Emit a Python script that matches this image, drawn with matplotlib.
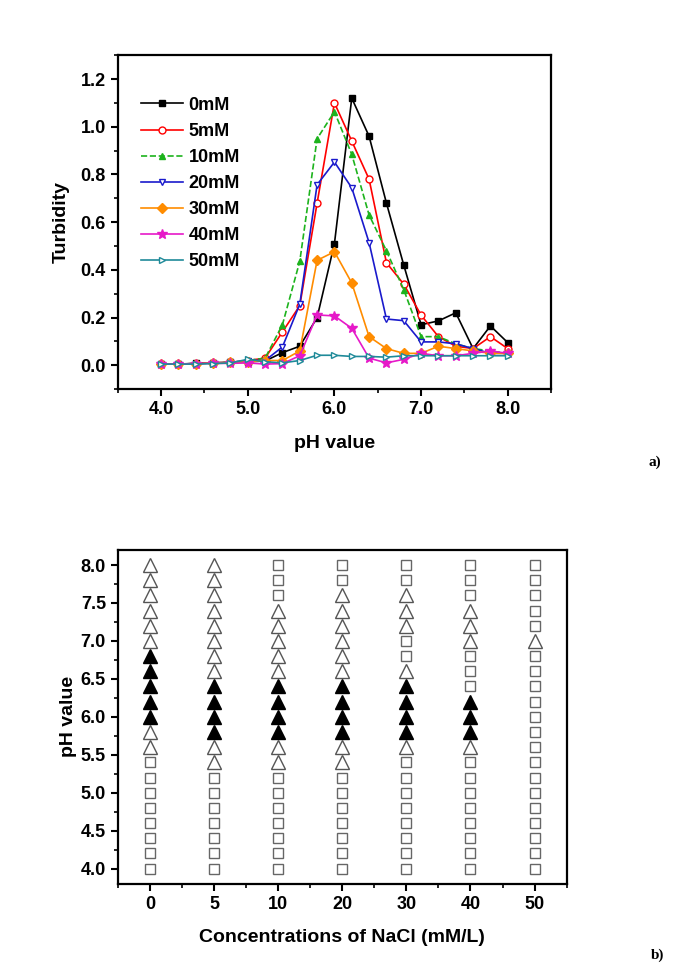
import numpy as np
import matplotlib
matplotlib.use('Agg')
import matplotlib.pyplot as plt
from matplotlib.ticker import MultipleLocator, FormatStrFormatter

plt.rcParams['font.family'] = ['Liberation Sans', 'DejaVu Sans']
plt.rcParams['font.weight'] = 'bold'

# --- panel a: turbidity vs pH ---
ph = [4.0, 4.2, 4.4, 4.6, 4.8, 5.0, 5.2, 5.4, 5.6, 5.8, 6.0,
      6.2, 6.4, 6.6, 6.8, 7.0, 7.2, 7.4, 7.6, 7.8, 8.0]
t0 = [0.005, 0.005, 0.008, 0.01, 0.012, 0.015, 0.018, 0.053, 0.08, 0.2, 0.51,
      1.12, 0.96, 0.68, 0.42, 0.17, 0.186, 0.22, 0.07, 0.165, 0.095]
t5 = [0.005, 0.005, 0.007, 0.01, 0.012, 0.02, 0.03, 0.14, 0.25, 0.68, 1.10,
      0.94, 0.78, 0.43, 0.34, 0.21, 0.12, 0.08, 0.07, 0.12, 0.07]
t10 = [0.005, 0.005, 0.007, 0.01, 0.012, 0.02, 0.03, 0.17, 0.436, 0.95, 1.063,
       0.884, 0.63, 0.48, 0.317, 0.12, 0.12, 0.09, 0.07, 0.06, 0.05]
t20 = [0.005, 0.005, 0.007, 0.01, 0.012, 0.02, 0.02, 0.077, 0.256, 0.757, 0.852,
       0.744, 0.514, 0.194, 0.187, 0.098, 0.098, 0.09, 0.07, 0.05, 0.05]
t30 = [0.005, 0.005, 0.007, 0.01, 0.012, 0.015, 0.02, 0.02, 0.06, 0.44, 0.476,
       0.345, 0.12, 0.07, 0.05, 0.05, 0.08, 0.07, 0.06, 0.05, 0.05]
t40 = [0.005, 0.005, 0.007, 0.008, 0.008, 0.01, 0.005, 0.007, 0.04, 0.211, 0.207,
       0.155, 0.03, 0.01, 0.025, 0.05, 0.04, 0.04, 0.05, 0.06, 0.05]
t50 = [0.005, 0.005, 0.005, 0.007, 0.01, 0.025, 0.015, 0.01, 0.02, 0.042, 0.042,
       0.037, 0.037, 0.034, 0.04, 0.04, 0.04, 0.04, 0.04, 0.04, 0.04]

series = [
    ('0mM', t0, 'black', 's', 'black', '-'),
    ('5mM', t5, 'red', 'o', 'white', '-'),
    ('10mM', t10, '#1db31d', '^', '#1db31d', '--'),
    ('20mM', t20, '#1a1acc', 'v', 'white', '-'),
    ('30mM', t30, '#ff8c00', 'D', '#ff8c00', '-'),
    ('40mM', t40, '#e619c8', '*', '#e619c8', '-'),
    ('50mM', t50, '#1f8a99', '>', 'white', '-'),
]

# --- panel b: phase states ---
conc_labels = ['0', '5', '10', '20', '30', '40', '50']
ph_b = [4.0, 4.2, 4.4, 4.6, 4.8, 5.0, 5.2, 5.4, 5.6, 5.8, 6.0,
        6.2, 6.4, 6.6, 6.8, 7.0, 7.2, 7.4, 7.6, 7.8, 8.0]
# s = square (open), t = open triangle, T = filled triangle; from pH 4.0 upward
state_0 = 'ssssssss' + 'tt' + 'TTTTT' + 'tttttt'
state_5 = 'sssssss' + 'tt' + 'TTTT' + 'tttttttt'
state_10 = 'sssssss' + 'tt' + 'TTTT' + 'ttttt' + 'sss'
state_20 = 'sssssss' + 'tt' + 'TTTT' + 'tttttt' + 'ss'
state_30 = 'ssssssss' + 't' + 'TTTT' + 't' + 'ss' + 'ttt' + 'ss'
state_40 = 'ssssssss' + 't' + 'TTT' + 'sss' + 'ttt' + 'sss'
state_50 = 'sssssssssssssss' + 't' + 'sssss'
states = [state_0, state_5, state_10, state_20, state_30, state_40, state_50]

fig = plt.figure(figsize=(6.77, 9.68), dpi=100)

ax1 = fig.add_axes([0.174, 0.598, 0.640, 0.345])
for lab, y, c, m, fc, ls in series:
    ms = 7.5 if m == '*' else 5
    if m == 'D':
        ms = 4.6
    ax1.plot(ph, y, color=c, ls=ls, lw=1.2, marker=m, ms=ms,
             mfc=fc, mec=c, mew=1.0, label=lab)
ax1.set_xlim(3.5, 8.5)
ax1.set_ylim(-0.1, 1.3)
ax1.xaxis.set_major_locator(MultipleLocator(1.0))
ax1.xaxis.set_minor_locator(MultipleLocator(0.5))
ax1.yaxis.set_major_locator(MultipleLocator(0.2))
ax1.yaxis.set_minor_locator(MultipleLocator(0.1))
ax1.xaxis.set_major_formatter(FormatStrFormatter('%.1f'))
ax1.yaxis.set_major_formatter(FormatStrFormatter('%.1f'))
ax1.set_xlabel('pH value', fontsize=14, fontweight='bold', labelpad=12)
ax1.set_ylabel('Turbidity', fontsize=14, fontweight='bold', labelpad=8)
leg = ax1.legend(loc='upper left', bbox_to_anchor=(0.038, 0.897), frameon=False,
                 fontsize=13, handlelength=2.3, handletextpad=0.3,
                 labelspacing=0.5, borderaxespad=0.0)
for t in leg.get_texts():
    t.set_fontweight('bold')

ax2 = fig.add_axes([0.174, 0.087, 0.663, 0.345])
for i, st in enumerate(states):
    for p, s in zip(ph_b, st):
        if s == 's':
            ax2.plot(i, p, marker='s', ms=7.8, mfc='white', mec='#666666', mew=1.0, ls='none')
        elif s == 't':
            ax2.plot(i, p, marker='^', ms=10.5, mfc='white', mec='#555555', mew=1.0, ls='none')
        else:
            ax2.plot(i, p, marker='^', ms=10.5, mfc='black', mec='black', mew=1.0, ls='none')
ax2.set_xlim(-0.5, 6.5)
ax2.set_ylim(3.8, 8.2)
ax2.set_xticks(range(len(conc_labels)))
ax2.set_xticklabels(conc_labels)
ax2.xaxis.set_minor_locator(MultipleLocator(0.5))
ax2.yaxis.set_major_locator(MultipleLocator(0.5))
ax2.yaxis.set_minor_locator(MultipleLocator(0.25))
ax2.yaxis.set_major_formatter(FormatStrFormatter('%.1f'))
ax2.set_xlabel('Concentrations of NaCl (mM/L)', fontsize=14, fontweight='bold', labelpad=12)
ax2.set_ylabel('pH value', fontsize=14, fontweight='bold', labelpad=3)

for ax in (ax1, ax2):
    for sp in ax.spines.values():
        sp.set_linewidth(1.6)
    ax.tick_params(which='major', direction='out', length=5, width=1.5, labelsize=13)
    ax.tick_params(which='minor', direction='out', length=3, width=1.2)
    ax.tick_params(top=False, right=False, which='both')
    for lbl in ax.get_xticklabels() + ax.get_yticklabels():
        lbl.set_fontweight('bold')

fig.text(0.958, 0.522, 'a)', fontsize=11, family='Liberation Serif', ha='left', va='center')
fig.text(0.962, 0.013, 'b)', fontsize=11, family='Liberation Serif', ha='left', va='center')

fig.savefig('out.png', dpi=100)
